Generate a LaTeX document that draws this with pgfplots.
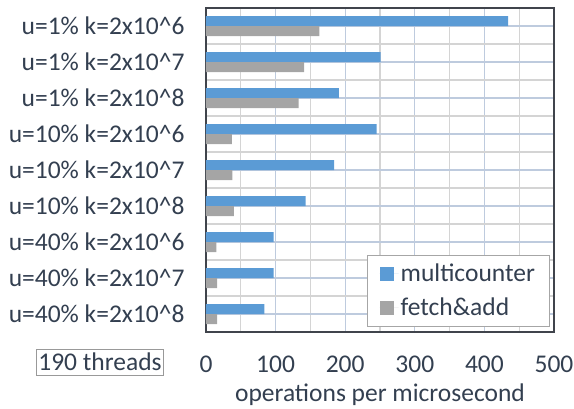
\documentclass[border=0pt]{standalone}
\usepackage{fontspec}
\setmainfont{Carlito}
\usepackage{pgfplots}
\pgfplotsset{compat=1.18}
\definecolor{mcblue}{RGB}{91,155,213}
\definecolor{fagray}{RGB}{165,165,165}
\definecolor{txt}{RGB}{51,63,80}
\definecolor{gridmaj}{RGB}{190,203,222}
\definecolor{gridmin}{RGB}{212,212,212}
\definecolor{framec}{RGB}{64,68,76}
\newcommand{\bigf}{\fontsize{25.5}{30}\selectfont}
\begin{document}
\begin{tikzpicture}
\useasboundingbox (0,0) rectangle (574pt,408pt);
\begin{axis}[
 at={(206pt,76pt)}, anchor=south west,
 scale only axis, width=348pt, height=324pt,
 xbar, bar width=10pt,
 xmin=0, xmax=500, ymin=-0.5, ymax=8.5, y dir=reverse,
 xtick={0,100,...,500}, minor xtick={50,150,...,450},
 ytick={0,...,8}, minor ytick={-0.5,0.5,...,8.5},
 yticklabels={{u=1\% k=2x10\textasciicircum 6},{u=1\% k=2x10\textasciicircum 7},{u=1\% k=2x10\textasciicircum 8},
   {u=10\% k=2x10\textasciicircum 6},{u=10\% k=2x10\textasciicircum 7},{u=10\% k=2x10\textasciicircum 8},
   {u=40\% k=2x10\textasciicircum 6},{u=40\% k=2x10\textasciicircum 7},{u=40\% k=2x10\textasciicircum 8}},
 grid=both, major grid style={gridmaj, line width=1.2pt}, minor grid style={gridmin, line width=1.2pt},
 major tick length=0pt, minor tick length=0pt,
 axis line style={framec, line width=1.6pt},
 /pgf/number format/assume math mode=true,
 tick label style={font=\bigf, text=txt},
 xticklabel style={yshift=-20pt},
 yticklabel style={xshift=-18pt},
 xlabel={operations per microsecond},
 xlabel style={font=\bigf, text=txt, yshift=-5pt},
 legend style={at={(0.986,0.0185)}, anchor=south east, draw=gray!70, fill=white,
   font=\bigf, text=txt, row sep=11pt, inner xsep=12pt, inner ysep=6.5pt},
 legend cell align=left,
 legend image code/.code={\fill[#1] (0pt,-7pt) rectangle (14pt,7pt); \path (0pt,0pt) -- (19pt,0pt);},
]
\addplot[fill=mcblue, draw=none, bar shift=5pt] coordinates {
(434,0) (251,1) (191,2) (245,3) (184,4) (143,5) (97,6) (97,7) (84,8)};
\addplot[fill=fagray, draw=none, bar shift=-5pt] coordinates {
(163,0) (141,1) (133,2) (37,3) (38,4) (40,5) (15,6) (16,7) (16,8)};
\legend{multicounter, fetch\&add}
\end{axis}
\node[draw=gray!80, text=txt, font=\bigf, inner xsep=2pt, inner ysep=4pt] at (100pt,46pt) {190 threads};
\end{tikzpicture}
\end{document}
